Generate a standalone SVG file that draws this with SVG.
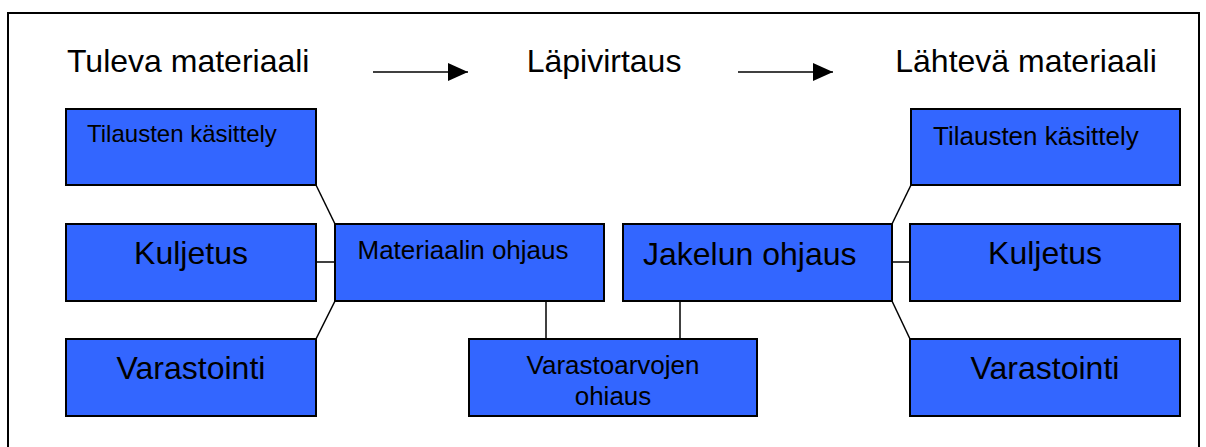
<svg xmlns="http://www.w3.org/2000/svg" width="1206" height="447" viewBox="0 0 1206 447">
<style>
.box{fill:#3366ff;stroke:#000;stroke-width:2}
.ln{stroke:#000;stroke-width:1.5;fill:none}
text{font-family:"Liberation Sans",Arial,sans-serif;fill:#000}
.h{font-size:32px}
.m{text-anchor:middle}
</style>
<defs>
<marker id="arr" markerWidth="20" markerHeight="18" refX="20" refY="9" orient="auto" markerUnits="userSpaceOnUse">
<path d="M0,0 L20,9 L0,18 Z" fill="#000"/>
</marker>
</defs>
<rect x="0" y="0" width="1206" height="447" fill="#fff"/>
<rect x="8" y="13" width="1191" height="450" fill="none" stroke="#000" stroke-width="2"/>
<g id="headers">
<text class="h" x="67" y="72">Tuleva materiaali</text>
<text class="h m" x="604" y="72">Läpivirtaus</text>
<text class="h m" x="1026" y="72">Lähtevä materiaali</text>
</g>
<g id="connectors">
<line class="ln" x1="373" y1="72" x2="468" y2="72" marker-end="url(#arr)"/>
<line class="ln" x1="738" y1="72" x2="833" y2="72" marker-end="url(#arr)"/>
<line class="ln" x1="316" y1="185" x2="335" y2="224"/>
<line class="ln" x1="316" y1="262" x2="335" y2="262"/>
<line class="ln" x1="316" y1="339" x2="335" y2="301"/>
<line class="ln" x1="892" y1="224" x2="911" y2="185"/>
<line class="ln" x1="892" y1="262" x2="910" y2="262"/>
<line class="ln" x1="892" y1="301" x2="910" y2="339"/>
<line class="ln" x1="546" y1="301" x2="546" y2="339"/>
<line class="ln" x1="680" y1="301" x2="680" y2="339"/>
</g>
<g id="l-tilausten">
<rect class="box" x="66" y="109" width="250" height="76"/>
<text x="87" y="142" font-size="24">Tilausten käsittely</text>
</g>
<g id="l-kuljetus">
<rect class="box" x="66" y="224" width="250" height="77"/>
<text class="h m" x="191" y="264">Kuljetus</text>
</g>
<g id="l-varastointi">
<rect class="box" x="66" y="339" width="250" height="77"/>
<text class="h m" x="191" y="379">Varastointi</text>
</g>
<g id="materiaalin-ohjaus">
<rect class="box" x="335" y="224" width="269" height="77"/>
<text class="m" x="463" y="259" font-size="26">Materiaalin ohjaus</text>
</g>
<g id="jakelun-ohjaus">
<rect class="box" x="623" y="224" width="269" height="77"/>
<text class="h" x="643" y="265">Jakelun ohjaus</text>
</g>
<g id="varastoarvojen">
<rect class="box" x="469" y="339" width="288" height="77"/>
<text class="m" x="613" y="374" font-size="26">Varastoarvojen</text>
<text class="m" x="613" y="405" font-size="26">ohiaus</text>
</g>
<g id="r-tilausten">
<rect class="box" x="911" y="109" width="269" height="76"/>
<text x="933" y="145" font-size="26">Tilausten käsittely</text>
</g>
<g id="r-kuljetus">
<rect class="box" x="910" y="224" width="270" height="77"/>
<text class="h m" x="1045" y="264">Kuljetus</text>
</g>
<g id="r-varastointi">
<rect class="box" x="910" y="339" width="270" height="77"/>
<text class="h m" x="1045" y="379">Varastointi</text>
</g>
</svg>
